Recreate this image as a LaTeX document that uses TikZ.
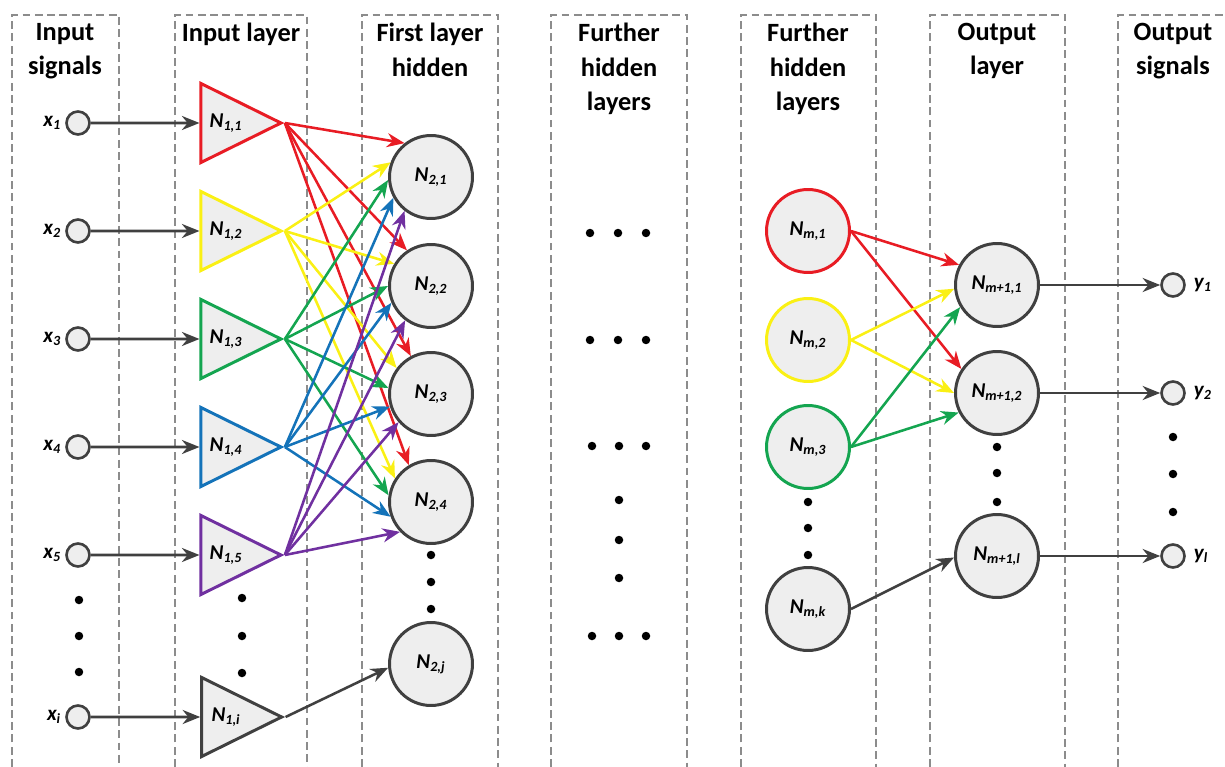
\documentclass[tikz,border=0pt]{standalone}
\usepackage{fontspec}
\setmainfont{Carlito}
\usetikzlibrary{shapes.geometric, arrows.meta, positioning}
\definecolor{nnred}{RGB}{232,28,36}
\definecolor{nnyellow}{RGB}{250,240,20}
\definecolor{nngreen}{RGB}{20,165,80}
\definecolor{nnblue}{RGB}{20,115,185}
\definecolor{nnpurple}{RGB}{112,48,160}
\definecolor{nngray}{RGB}{64,64,64}
\definecolor{nnfill}{RGB}{238,238,238}
\definecolor{nndash}{RGB}{140,140,140}

\begin{document}
\begin{tikzpicture}[
    x=0.02cm, y=-0.02cm,
    column/.style={draw=nndash, dash pattern=on 4.5pt off 2.5pt, line width=0.7pt},
    title/.style={font=\fontsize{15}{19.5}\selectfont\bfseries, align=center, anchor=north, inner sep=0pt},
    neuron/.style={circle, draw=nngray, line width=1.7pt, fill=nnfill, minimum size=1.66cm, inner sep=0pt, font=\fontsize{12}{14}\selectfont\bfseries\itshape},
    signal/.style={circle, draw=nngray, line width=1.5pt, fill=nnfill, minimum size=0.46cm, inner sep=0pt},
    tri/.style={isosceles triangle, isosceles triangle stretches, shape border rotate=0, minimum width=1.58cm, minimum height=1.6cm, inner sep=0pt, line width=1.7pt, fill=nnfill, font=\fontsize{12}{14}\selectfont\bfseries\itshape},
    siglabel/.style={font=\fontsize{12}{14}\selectfont\bfseries\itshape, inner sep=1pt},
    dot/.style={circle, fill=black, inner sep=0pt, minimum size=0.17cm},
    arrow/.style={-{Stealth[length=10pt, width=8pt]}, line width=1.45pt}
]
\useasboundingbox (0,0) rectangle (1225,767);

% Columns
\draw[column] (12,767) -- (12,15) -- (119,15) -- (119,767);
\draw[column] (175,767) -- (175,15) -- (307,15) -- (307,767);
\draw[column] (362,767) -- (362,15) -- (498,15) -- (498,767);
\draw[column] (551,767) -- (551,15) -- (687,15) -- (687,767);
\draw[column] (741,767) -- (741,15) -- (876,15) -- (876,767);
\draw[column] (930,767) -- (930,15) -- (1065,15) -- (1065,767);
\draw[column] (1118,767) -- (1118,15) -- (1240,15);

\node[title] (t_insig) at (65,23) {Input\\signals};
\node[title] (t_inlay) at (241,23) {Input layer};
\node[title] (t_first) at (430,23) {First layer\\hidden};
\node[title] (t_furth1) at (619,23) {Further\\hidden\\layers};
\node[title] (t_furth2) at (808,23) {Further\\hidden\\layers};
\node[title] (t_outlay) at (997,23) {Output\\layer};
\node[title] (t_outsig) at (1173,23) {Output\\signals};

% Input signals
\node[signal] (xin1) at (78,123) {};
\node[signal] (xin2) at (78,231) {};
\node[signal] (xin3) at (78,339) {};
\node[signal] (xin4) at (78,447) {};
\node[signal] (xin5) at (78,555) {};
\node[signal] (xini) at (78,717) {};
\node[siglabel, left=0.04cm of xin1] (lx1) {x\textsubscript{1}};
\node[siglabel, left=0.04cm of xin2] (lx2) {x\textsubscript{2}};
\node[siglabel, left=0.04cm of xin3] (lx3) {x\textsubscript{3}};
\node[siglabel, left=0.04cm of xin4] (lx4) {x\textsubscript{4}};
\node[siglabel, left=0.04cm of xin5] (lx5) {x\textsubscript{5}};
\node[siglabel, left=0.04cm of xini] (lxi) {x\textsubscript{i}};

% Input layer
\node[tri, draw=nnred] (n11) at (226,123) {N\textsubscript{1,1}};
\node[tri, draw=nnyellow] (n12) at (226,231) {N\textsubscript{1,2}};
\node[tri, draw=nngreen] (n13) at (226,339) {N\textsubscript{1,3}};
\node[tri, draw=nnblue] (n14) at (226,447) {N\textsubscript{1,4}};
\node[tri, draw=nnpurple] (n15) at (226,555) {N\textsubscript{1,5}};
\node[tri, draw=nngray] (n1i) at (226,717) {N\textsubscript{1,i}};

% First hidden layer
\node[neuron] (h21) at (431,177) {N\textsubscript{2,1}};
\node[neuron] (h22) at (431,286) {N\textsubscript{2,2}};
\node[neuron] (h23) at (431,394) {N\textsubscript{2,3}};
\node[neuron] (h24) at (431,502) {N\textsubscript{2,4}};
\node[neuron] (h2j) at (431,664) {N\textsubscript{2,j}};

% Further hidden layers
\node[neuron, draw=nnred] (m1) at (808,231) {N\textsubscript{m,1}};
\node[neuron, draw=nnyellow] (m2) at (808,340) {N\textsubscript{m,2}};
\node[neuron, draw=nngreen] (m3) at (808,447) {N\textsubscript{m,3}};
\node[neuron] (mk) at (808,609) {N\textsubscript{m,k}};

% Output layer
\node[neuron] (o1) at (997,285) {N\textsubscript{m+1,1}};
\node[neuron] (o2) at (997,393) {N\textsubscript{m+1,2}};
\node[neuron] (ol) at (997,556) {N\textsubscript{m+1,l}};

% Output signals
\node[signal] (yout1) at (1173,285) {};
\node[signal] (yout2) at (1173,393) {};
\node[signal] (youtl) at (1173,556) {};
\node[siglabel, right=0.12cm of yout1] (ly1) {y\textsubscript{1}};
\node[siglabel, right=0.12cm of yout2] (ly2) {y\textsubscript{2}};
\node[siglabel, right=0.12cm of youtl] (lyl) {y\textsubscript{l}};

% Dots
\node[dot] (dx1) at (79,600) {}; \node[dot] (dx2) at (79,636) {}; \node[dot] (dx3) at (79,672) {};
\node[dot] (dn1) at (242,598) {}; \node[dot] (dn2) at (242,636) {}; \node[dot] (dn3) at (242,673) {};
\node[dot] (dh1) at (431,555) {}; \node[dot] (dh2) at (431,582) {}; \node[dot] (dh3) at (431,609) {};
\node[dot] (df11) at (590,233) {}; \node[dot] (df12) at (618,233) {}; \node[dot] (df13) at (646,233) {};
\node[dot] (df21) at (590,340) {}; \node[dot] (df22) at (618,340) {}; \node[dot] (df23) at (646,340) {};
\node[dot] (df31) at (592,446) {}; \node[dot] (df32) at (619,446) {}; \node[dot] (df33) at (646,446) {};
\node[dot] (dfv1) at (619,500) {}; \node[dot] (dfv2) at (619,540) {}; \node[dot] (dfv3) at (619,578) {};
\node[dot] (df41) at (592,636) {}; \node[dot] (df42) at (619,636) {}; \node[dot] (df43) at (646,636) {};
\node[dot] (dm1) at (808,502) {}; \node[dot] (dm2) at (808,528) {}; \node[dot] (dm3) at (808,555) {};
\node[dot] (do1) at (997,447) {}; \node[dot] (do2) at (997,473) {}; \node[dot] (do3) at (997,502) {};
\node[dot] (dy1) at (1173,437) {}; \node[dot] (dy2) at (1173,474) {}; \node[dot] (dy3) at (1173,512) {};

% Input arrows
\draw[arrow, nngray] (xin1) -- (n11);
\draw[arrow, nngray] (xin2) -- (n12);
\draw[arrow, nngray] (xin3) -- (n13);
\draw[arrow, nngray] (xin4) -- (n14);
\draw[arrow, nngray] (xin5) -- (n15);
\draw[arrow, nngray] (xini) -- (n1i);

% Input layer to first hidden layer
\draw[arrow, nnred] (n11.apex) -- (h21.128);
\draw[arrow, nnred] (n11.apex) -- (h22.124);
\draw[arrow, nnred] (n11.apex) -- (h23.118);
\draw[arrow, nnred] (n11.apex) -- (h24.121);
\draw[arrow, nnyellow] (n12.apex) -- (h21.160);
\draw[arrow, nnyellow] (n12.apex) -- (h22.149);
\draw[arrow, nnyellow] (n12.apex) -- (h23.143);
\draw[arrow, nnyellow] (n12.apex) -- (h24.147);
\draw[arrow, nngreen] (n13.apex) -- (h21.184);
\draw[arrow, nngreen] (n13.apex) -- (h22.180);
\draw[arrow, nngreen] (n13.apex) -- (h23.172);
\draw[arrow, nngreen] (n13.apex) -- (h24.171);
\draw[arrow, nnblue] (n14.apex) -- (h21.209);
\draw[arrow, nnblue] (n14.apex) -- (h22.203);
\draw[arrow, nnblue] (n14.apex) -- (h23.197);
\draw[arrow, nnblue] (n14.apex) -- (h24.200);
\draw[arrow, nnpurple] (n15.apex) -- (h21.232);
\draw[arrow, nnpurple] (n15.apex) -- (h22.233);
\draw[arrow, nnpurple] (n15.apex) -- (h23.221);
\draw[arrow, nnpurple] (n15.apex) -- (h24.224);
\draw[arrow, nngray] (n1i.apex) -- (h2j.185);

% Last hidden layer to output layer
\draw[arrow, nnred] (m1.east) -- (o1.152);
\draw[arrow, nnred] (m1.east) -- (o2.146);
\draw[arrow, nnyellow] (m2.east) -- (o1.185);
\draw[arrow, nnyellow] (m2.east) -- (o2.180);
\draw[arrow, nngreen] (m3.east) -- (o1.211);
\draw[arrow, nngreen] (m3.east) -- (o2.207);
\draw[arrow, nngray] (mk.east) -- (ol.182);

% Output arrows
\draw[arrow, nngray] (o1) -- (yout1);
\draw[arrow, nngray] (o2) -- (yout2);
\draw[arrow, nngray] (ol) -- (youtl);

\end{tikzpicture}
\end{document}
